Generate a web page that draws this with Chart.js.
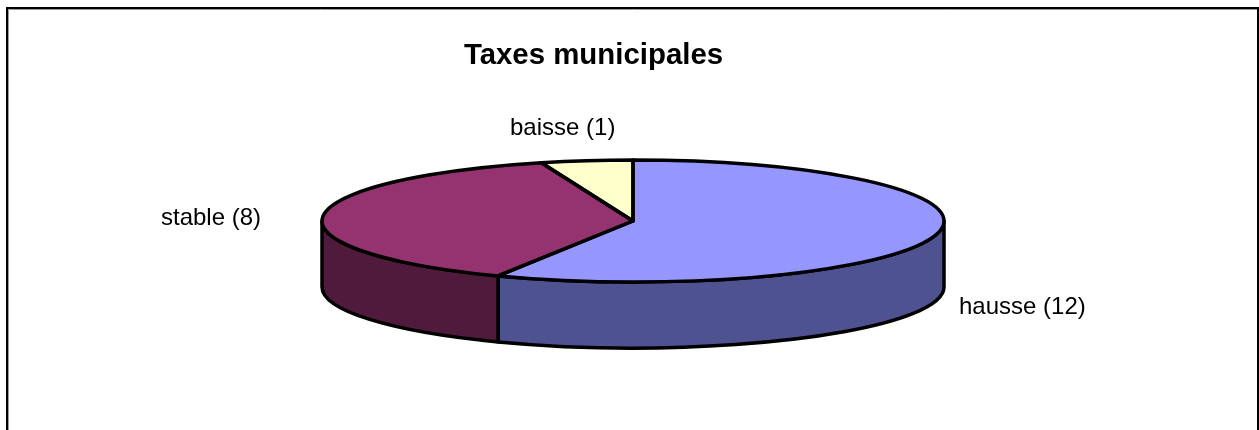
<!DOCTYPE html>
<html>
<head>
<meta charset="utf-8">
<script src="https://cdn.jsdelivr.net/npm/chart.js@4"></script>
<style>
  body { margin: 0; background: #fff; }
  canvas { display: block; }
</style>
</head>
<body>
<canvas id="myChart" width="1259" height="430"></canvas>
<script>
const chartTitle = "Taxes municipales";
const categories = ["hausse", "stable", "baisse"];
const values = [12, 8, 1];
const topColors = ["#9597ff", "#943370", "#ffffcc"];
const sideColors = ["#4f5291", "#501a3c", "#8c8c70"];

// where the flattened pie goes on the page
const pie3d = { x: 633, y: 221, rx: 311, ry: 61, depth: 66 };
const labelPos = [
  { x: 959, y: 307 },
  { x: 161, y: 218 },
  { x: 510, y: 128 },
];

function wallPath(ctx, a0, a1) {
  ctx.beginPath();
  ctx.ellipse(pie3d.x, pie3d.y, pie3d.rx, pie3d.ry, 0, a0, a1);
  ctx.ellipse(pie3d.x, pie3d.y + pie3d.depth, pie3d.rx, pie3d.ry, 0, a1, a0, true);
  ctx.closePath();
}

const flatPie = {
  id: "flatPie",
  // the arcs are skipped by the normal draw and painted here squashed
  beforeDatasetsDraw(chart) {
    const ctx = chart.ctx;
    const arcs = chart.getDatasetMeta(0).data;
    ctx.save();
    ctx.lineWidth = 3.5;
    ctx.lineJoin = "round";
    ctx.strokeStyle = "#000";

    // side walls, only the front half shows
    arcs.forEach((arc, i) => {
      const a0 = Math.max(arc.startAngle, 0);
      const a1 = Math.min(arc.endAngle, Math.PI);
      if (a1 <= a0) return;
      wallPath(ctx, a0, a1);
      ctx.fillStyle = sideColors[i];
      ctx.fill();
      ctx.stroke();
    });

    // top of the pie
    arcs.forEach((arc) => {
      ctx.save();
      ctx.translate(pie3d.x, pie3d.y);
      ctx.scale(pie3d.rx / arc.outerRadius, pie3d.ry / arc.outerRadius);
      ctx.translate(-arc.x, -arc.y);
      arc.draw(ctx);
      ctx.restore();
    });
    arcs.forEach((arc) => {
      ctx.beginPath();
      ctx.moveTo(pie3d.x, pie3d.y);
      ctx.ellipse(pie3d.x, pie3d.y, pie3d.rx, pie3d.ry, 0, arc.startAngle, arc.endAngle);
      ctx.closePath();
      ctx.stroke();
    });
    ctx.restore();
    return false;
  },
  afterDraw(chart) {
    const ctx = chart.ctx;
    ctx.save();
    // frame, open at the bottom
    ctx.strokeStyle = "#999";
    ctx.lineWidth = 1;
    ctx.beginPath();
    ctx.moveTo(8.5, 430);
    ctx.lineTo(8.5, 9.5);
    ctx.lineTo(1257, 9.5);
    ctx.stroke();
    ctx.strokeStyle = "#000";
    ctx.lineWidth = 2;
    ctx.beginPath();
    ctx.moveTo(7, 430);
    ctx.lineTo(7, 8);
    ctx.lineTo(1258, 8);
    ctx.lineTo(1258, 430);
    ctx.stroke();

    ctx.fillStyle = "#000";
    ctx.textBaseline = "middle";
    ctx.textAlign = "left";
    ctx.font = "24px 'Liberation Sans'";
    categories.forEach((c, i) => {
      ctx.fillText(c + " (" + values[i] + ")", labelPos[i].x, labelPos[i].y);
    });
    ctx.font = "bold 29.4px 'Liberation Sans'";
    ctx.textAlign = "center";
    ctx.fillText(chartTitle, 593.5, 56);
    ctx.restore();
  },
};

new Chart(document.getElementById("myChart"), {
  type: "pie",
  data: {
    labels: categories,
    datasets: [{ data: values, backgroundColor: topColors, borderWidth: 0 }],
  },
  options: {
    responsive: false,
    animation: false,
    devicePixelRatio: 1,
    plugins: { legend: { display: false }, tooltip: { enabled: false } },
  },
  plugins: [flatPie],
});
</script>
</body>
</html>
